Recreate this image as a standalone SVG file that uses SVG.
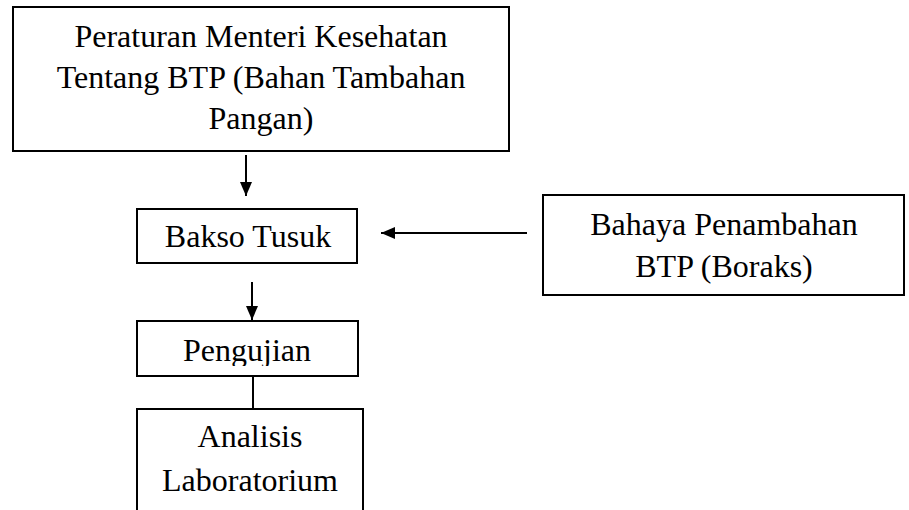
<svg xmlns="http://www.w3.org/2000/svg" width="909" height="510" viewBox="0 0 909 510">
<style>
  .box { fill: #ffffff; stroke: #000000; stroke-width: 2; }
  .lbl { font-family: "Liberation Serif", "Times New Roman", serif; font-size: 32px; fill: #000000; text-anchor: middle; }
  .conn { stroke: #000000; stroke-width: 2; fill: none; }
  .arrow { marker-end: url(#head); }
</style>
<defs>
  <marker id="head" markerUnits="userSpaceOnUse" markerWidth="14" markerHeight="12" refX="14" refY="6" orient="auto">
    <path d="M0,0 L14,6 L0,12 z" fill="#000000"/>
  </marker>
  <clipPath id="pclip"><rect x="137" y="321" width="221" height="45"/></clipPath>
</defs>
<rect x="0" y="0" width="909" height="510" fill="#ffffff"/>
<g id="connectors">
  <line class="conn arrow" x1="246" y1="155" x2="246" y2="196"/>
  <line class="conn arrow" x1="527" y1="233" x2="381" y2="233"/>
  <line class="conn arrow" x1="252" y1="282" x2="252" y2="320"/>
  <line class="conn" x1="253" y1="376" x2="253" y2="409"/>
</g>
<g id="node-peraturan">
  <rect class="box" x="13" y="7" width="496" height="144"/>
  <text class="lbl" x="261" y="47">Peraturan Menteri Kesehatan</text>
  <text class="lbl" x="261" y="88">Tentang BTP (Bahan Tambahan</text>
  <text class="lbl" x="261" y="129">Pangan)</text>
</g>
<g id="node-bakso">
  <rect class="box" x="137" y="209" width="220" height="54"/>
  <text class="lbl" x="248" y="247">Bakso Tusuk</text>
</g>
<g id="node-bahaya">
  <rect class="box" x="543" y="195" width="361" height="100"/>
  <text class="lbl" x="724" y="235">Bahaya Penambahan</text>
  <text class="lbl" x="724" y="277">BTP (Boraks)</text>
</g>
<g id="node-pengujian">
  <rect class="box" x="137" y="321" width="221" height="55"/>
  <text class="lbl" x="247" y="361" clip-path="url(#pclip)">Pengujian</text>
</g>
<g id="node-analisis">
  <rect class="box" x="137" y="409" width="226" height="130"/>
  <text class="lbl" x="250" y="447">Analisis</text>
  <text class="lbl" x="250" y="491">Laboratorium</text>
</g>
</svg>
